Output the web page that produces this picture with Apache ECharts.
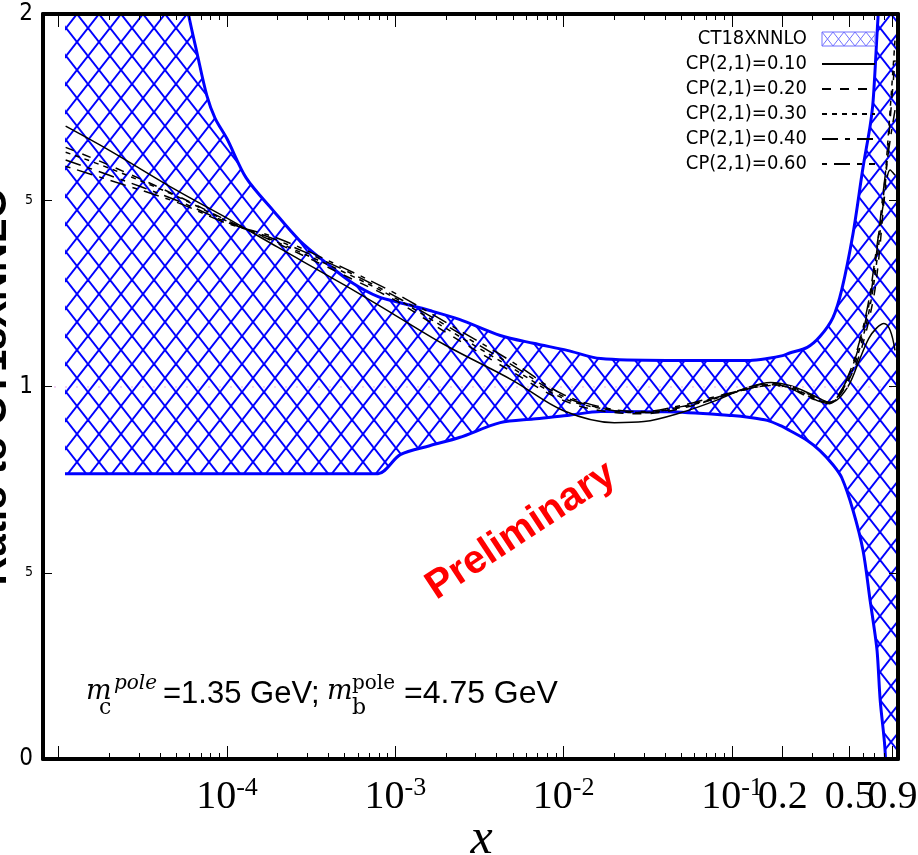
<!DOCTYPE html>
<html>
<head>
<meta charset="utf-8">
<script src="https://cdn.jsdelivr.net/npm/echarts@6/dist/echarts.min.js"></script>
<style>
html,body{margin:0;padding:0;background:#fff;}
#chart{width:918px;height:855px;}
</style>
</head>
<body>
<div id="chart"></div>
<script>
// ---- CT18XNNLO uncertainty band (ratio) on a common x grid ----
const bandX = [1.09e-5, 2.3e-5, 4.0e-5, 5.3e-5, 5.9e-5, 6.6e-5, 7.6e-5, 8.5e-5, 1.0e-4, 1.3e-4, 1.9e-4, 2.7e-4, 3.9e-4, 5.6e-4, 7.9e-4, 1.07e-3, 1.6e-3, 2.4e-3, 4.2e-3, 6.6e-3, 0.0105, 0.0166, 0.041, 0.1, 0.128, 0.162, 0.20, 0.22, 0.28, 0.333, 0.398, 0.449, 0.524, 0.601, 0.662, 0.69, 0.728, 0.76, 0.81, 0.83, 0.97];
const bandUpper = [3.2, 2.7, 2.35, 2.12, 2.0, 1.90, 1.78, 1.72, 1.665, 1.56, 1.47, 1.392, 1.331, 1.277, 1.241, 1.225, 1.204, 1.18, 1.137, 1.116, 1.097, 1.075, 1.070, 1.070, 1.070, 1.075, 1.083, 1.090, 1.105, 1.134, 1.185, 1.26, 1.411, 1.589, 1.70, 1.769, 1.949, 2.1, 2.5, 2.7, 3.5];
const bandLower = [0.766, 0.766, 0.766, 0.766, 0.766, 0.766, 0.766, 0.766, 0.766, 0.766, 0.766, 0.766, 0.766, 0.766, 0.766, 0.817, 0.841, 0.863, 0.903, 0.913, 0.922, 0.933, 0.932, 0.922, 0.917, 0.909, 0.892, 0.882, 0.855, 0.828, 0.79, 0.755, 0.667, 0.559, 0.425, 0.37, 0.290, 0.156, 0.030, -0.1, -1.5];

// ---- CP(2,1) curves on a shared x grid ----
const curveX = [1.1e-5, 2e-5, 5e-5, 1e-4, 2e-4, 5e-4, 1e-3, 2e-3, 5e-3, 0.01, 0.02, 0.03, 0.05, 0.08, 0.12, 0.17, 0.22, 0.28, 0.33, 0.38, 0.43, 0.5, 0.57, 0.65, 0.72, 0.8, 0.87, 0.93];
const cp010 = [1.699, 1.634, 1.527, 1.452, 1.374, 1.272, 1.191, 1.110, 1.016, 0.935, 0.903, 0.906, 0.930, 0.962, 0.995, 1.011, 1.003, 0.984, 0.968, 0.957, 0.968, 1.008, 1.070, 1.129, 1.156, 1.169, 1.151, 1.097];
const cp020 = [1.642, 1.594, 1.513, 1.446, 1.384, 1.298, 1.231, 1.145, 1.038, 0.962, 0.930, 0.927, 0.941, 0.968, 0.995, 1.008, 1.000, 0.981, 0.965, 0.957, 0.973, 1.022, 1.083, 1.177, 1.285, 1.500, 1.715, 1.876];
const cp030 = [1.629, 1.586, 1.511, 1.444, 1.387, 1.306, 1.237, 1.156, 1.048, 0.968, 0.935, 0.930, 0.944, 0.968, 0.992, 1.005, 0.997, 0.978, 0.962, 0.957, 0.976, 1.027, 1.097, 1.199, 1.325, 1.527, 1.742, 1.930];
const cp040 = [1.608, 1.567, 1.500, 1.441, 1.392, 1.312, 1.242, 1.164, 1.056, 0.973, 0.935, 0.930, 0.946, 0.970, 0.992, 1.005, 0.997, 0.976, 0.960, 0.957, 0.978, 1.035, 1.110, 1.218, 1.352, 1.540, 1.661, 1.742];
const cp060 = [1.591, 1.554, 1.495, 1.438, 1.398, 1.317, 1.250, 1.172, 1.065, 0.978, 0.938, 0.933, 0.949, 0.973, 0.992, 1.003, 0.995, 0.973, 0.960, 0.954, 0.976, 1.038, 1.118, 1.231, 1.366, 1.500, 1.581, 1.567];

const seriesNames = ['CP(2,1)=0.10', 'CP(2,1)=0.20', 'CP(2,1)=0.30', 'CP(2,1)=0.40', 'CP(2,1)=0.60'];
const seriesValues = [cp010, cp020, cp030, cp040, cp060];
const seriesDash = ['solid', [9, 9], [5, 5], [16, 7, 5, 7], [5, 7, 16, 7]];

// ---- axis ticks and labels ----
const xMajorTicks = [1e-5, 1e-4, 1e-3, 1e-2, 0.1, 0.2, 0.5, 0.9];
const xLabelValues = [1e-4, 1e-3, 1e-2, 0.1, 0.2, 0.5];
const xLabelTexts = ['{b|10}{s|-4}', '{b|10}{s|-3}', '{b|10}{s|-2}', '{b|10}{s|-1}', '{b|0.2}', '{b|0.5}'];
const xEndLabelValues = [0.9];
const xEndLabelTexts = ['{b|0.9}'];
const xMinorTicks = [];
[1e-5, 1e-4, 1e-3, 1e-2].forEach(d => { for (let k = 2; k <= 9; k++) xMinorTicks.push(k * d); });
[0.3, 0.4, 0.6, 0.7, 0.8].forEach(v => xMinorTicks.push(v));
const yTickValues = [0, 0.5, 1, 1.5, 2];
const yTickTexts = ['{b|0}', '{s|5}', '{b|1}', '{s|5}', '{b|2}'];

const X_MIN = 8.07e-6, X_MAX = 0.969;
const NARROW = "'DejaVu Sans Condensed', 'Liberation Sans', sans-serif";

// diamond cross-hatch texture
function makeHatch(w, h, color, lw) {
  const c = document.createElement('canvas');
  c.width = w; c.height = h;
  const g = c.getContext('2d');
  g.strokeStyle = color; g.lineWidth = lw;
  for (let dx = -w; dx <= w; dx += w) {
    g.beginPath(); g.moveTo(dx, 0); g.lineTo(dx + w, h); g.stroke();
    g.beginPath(); g.moveTo(dx + w, 0); g.lineTo(dx, h); g.stroke();
  }
  return c;
}
const hatch = { image: makeHatch(22, 28, '#0000ff', 2), repeat: 'repeat' };
const hatchLight = { image: makeHatch(11, 14, '#7070ff', 1), repeat: 'repeat' };

const chart = echarts.init(document.getElementById('chart'), null, { renderer: 'canvas' });

const xLabelRich = {
  b: { fontFamily: 'Liberation Serif', fontSize: 40, color: '#000', lineHeight: 44 },
  s: { fontFamily: 'Liberation Serif', fontSize: 26, color: '#000', verticalAlign: 'top', lineHeight: 26 }
};

function xAxisBase(pos, ticks, len, withLine) {
  return {
    type: 'log', position: pos, min: X_MIN, max: X_MAX, z: 10,
    axisLine: { show: withLine, onZero: false, lineStyle: { color: '#000', width: 4 } },
    axisTick: { show: true, inside: true, length: len, customValues: ticks, lineStyle: { color: '#000', width: 1 } },
    axisLabel: { show: false },
    splitLine: { show: false },
    minorTick: { show: false }
  };
}

function labelSet(values, texts) {
  return {
    show: true, customValues: values, margin: 16, hideOverlap: false,
    showMinLabel: true, showMaxLabel: true,
    formatter: function (v) {
      const i = values.findIndex(t => Math.abs(t - v) / t < 1e-6);
      return i >= 0 ? texts[i] : '';
    },
    rich: xLabelRich
  };
}

const bottomMajor = xAxisBase('bottom', xMajorTicks, 13, true);
bottomMajor.axisLabel = labelSet(xLabelValues, xLabelTexts);
bottomMajor.name = 'x';
bottomMajor.nameLocation = 'middle';
bottomMajor.nameGap = 56;
bottomMajor.nameMoveOverlap = false;
bottomMajor.nameTextStyle = { fontFamily: 'Liberation Serif', fontStyle: 'italic', fontSize: 50, color: '#000', padding: [0, 0, 0, 22] };

const bottomMinor = xAxisBase('bottom', xMinorTicks, 6, false);
bottomMinor.axisLabel = labelSet(xEndLabelValues, xEndLabelTexts);

const series = [];
// band: hatch from the upper edge down, then the region under the lower edge is painted white
series.push({
  name: 'CT18XNNLO', type: 'line', z: 2, silent: true, symbol: 'none', smooth: 0.3,
  data: bandX.map((x, i) => [x, bandUpper[i]]),
  lineStyle: { color: '#0000ff', width: 3 },
  itemStyle: { color: '#0000ff' },
  areaStyle: { color: hatch, opacity: 1, origin: 'start' },
  markLine: {
    silent: true, symbol: 'none', label: { show: false },
    lineStyle: { color: '#efc4f4', type: [2, 9], width: 1.5 },
    data: [{ yAxis: 1 }]
  }
});
series.push({
  name: 'bandLowerEdge', type: 'line', z: 3, silent: true, symbol: 'none', smooth: 0.3,
  data: bandX.map((x, i) => [x, bandLower[i]]),
  lineStyle: { color: '#0000ff', width: 3 },
  areaStyle: { color: '#ffffff', opacity: 1, origin: 'start' }
});
seriesNames.forEach((n, k) => {
  series.push({
    name: n, type: 'line', z: 4, silent: true, symbol: 'none', smooth: 0.35,
    data: curveX.map((x, i) => [x, seriesValues[k][i]]),
    lineStyle: { color: '#000', width: 1.5, type: seriesDash[k] },
    itemStyle: { color: '#000' }
  });
});

const option = {
  animation: false,
  backgroundColor: '#fff',
  grid: { left: 43, right: 20, top: 14, bottom: 96, outerBoundsMode: 'none', containLabel: false },
  legend: {
    orient: 'vertical', align: 'right', right: 37, top: 24,
    itemWidth: 53, itemHeight: 14, itemGap: 5, selectedMode: false,
    itemStyle: { opacity: 0 },
    textStyle: { fontFamily: NARROW, fontSize: 20, color: '#000', lineHeight: 20, padding: [0, 10, 0, 0] },
    data: [
      { name: 'CT18XNNLO', icon: 'rect', itemStyle: { color: hatchLight, borderColor: '#7070ff', borderWidth: 1, opacity: 1 } },
      ...seriesNames.map(n => ({ name: n }))
    ]
  },
  xAxis: [
    bottomMajor,
    bottomMinor,
    xAxisBase('top', xMajorTicks, 13, true),
    xAxisBase('top', xMinorTicks, 6, false)
  ],
  yAxis: [
    {
      type: 'value', min: 0, max: 2, interval: 0.5, position: 'left', z: 10,
      axisLine: { show: true, onZero: false, lineStyle: { color: '#000', width: 4 } },
      axisTick: { show: true, inside: true, length: 9, lineStyle: { color: '#000', width: 1 } },
      splitLine: { show: false },
      axisLabel: {
        margin: 10,
        formatter: function (v) {
          const i = yTickValues.findIndex(t => Math.abs(t - v) < 1e-9);
          return i >= 0 ? yTickTexts[i] : '';
        },
        rich: {
          b: { fontFamily: NARROW, fontSize: 24, color: '#000' },
          s: { fontFamily: NARROW, fontSize: 14, color: '#000' }
        }
      },
      name: 'Ratio to CT18XNNLO', nameLocation: 'middle', nameRotate: 90, nameGap: 28, nameMoveOverlap: false,
      nameTextStyle: { fontFamily: 'Liberation Sans', fontWeight: 'bold', fontSize: 40, color: '#000' }
    },
    {
      type: 'value', min: 0, max: 2, interval: 0.5, position: 'right', z: 10,
      axisLine: { show: true, onZero: false, lineStyle: { color: '#000', width: 4 } },
      axisTick: { show: true, inside: true, length: 9, lineStyle: { color: '#000', width: 1 } },
      splitLine: { show: false },
      axisLabel: { show: false }
    }
  ],
  series: series,
  graphic: [
    {
      type: 'text', x: 521, y: 531, rotation: 33.5 * Math.PI / 180, z: 20,
      style: { text: 'Preliminary', fill: '#ff0000', font: 'bold 40px "Liberation Sans"', align: 'center', verticalAlign: 'middle' }
    },
    { type: 'text', x: 86, y: 692, z: 20, style: { text: 'm', fill: '#000', font: 'italic 27px "DejaVu Serif"', verticalAlign: 'middle' } },
    { type: 'text', x: 114, y: 684, z: 20, style: { text: 'pole', fill: '#000', font: 'italic 20px "DejaVu Serif"', verticalAlign: 'middle' } },
    { type: 'text', x: 99, y: 708, z: 20, style: { text: 'c', fill: '#000', font: '22px "DejaVu Serif"', verticalAlign: 'middle' } },
    { type: 'text', x: 163, y: 694, z: 20, style: { text: '=1.35 GeV;', fill: '#000', font: '31px "Liberation Sans"', verticalAlign: 'middle' } },
    { type: 'text', x: 327, y: 692, z: 20, style: { text: 'm', fill: '#000', font: 'italic 27px "DejaVu Serif"', verticalAlign: 'middle' } },
    { type: 'text', x: 352, y: 684, z: 20, style: { text: 'pole', fill: '#000', font: '20px "DejaVu Serif"', verticalAlign: 'middle' } },
    { type: 'text', x: 352, y: 708, z: 20, style: { text: 'b', fill: '#000', font: '22px "DejaVu Serif"', verticalAlign: 'middle' } },
    { type: 'text', x: 404, y: 694, z: 20, style: { text: '=4.75 GeV', fill: '#000', font: '32px "Liberation Sans"', verticalAlign: 'middle' } }
  ]
};

chart.setOption(option);
</script>
</body>
</html>
